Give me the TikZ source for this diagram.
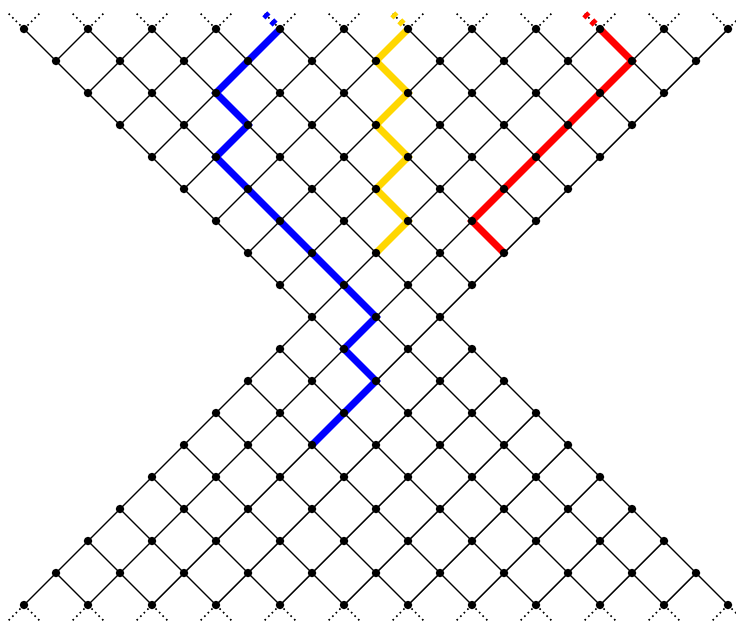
\documentclass[tikz,border=0pt]{standalone}
\definecolor{pathblue}{RGB}{0,0,255}
\definecolor{pathgold}{RGB}{255,215,0}
\definecolor{pathred}{RGB}{255,0,0}
\tikzset{
  edge/.style={line width=1.4pt, draw=black},
  stub/.style={line width=1.6pt, draw=black, dash pattern=on 1.6pt off 3.4pt},
  walk/.style={line width=7pt, line cap=butt, line join=miter},
  walkstub/.style={line width=7pt, line cap=butt, dash pattern=on 4.5pt off 5.5pt, dash phase=3pt},
  dot/.style={circle, fill=black, inner sep=0pt, minimum size=8.5pt},
}
\begin{document}
\begin{tikzpicture}[x=1pt,y=-1pt]
\useasboundingbox (0,0) rectangle (736,621);
% lattice points
\foreach \r in {0,...,18} {
  \pgfmathtruncatemacro\rlo{\r<10 ? \r : 18-\r}
  \pgfmathtruncatemacro\rhi{22-\rlo}
  \pgfmathtruncatemacro\rnx{\rlo+2}
  \foreach \c in {\rlo,\rnx,...,\rhi} {
    \coordinate (v-\r-\c) at ({24+32*\c},{29+32*\r});
  }
}
% stub end points
\foreach \c in {0,2,...,22} {
  \coordinate (tl-\c) at ({8+32*\c},13);
  \coordinate (tr-\c) at ({40+32*\c},13);
  \coordinate (bl-\c) at ({8+32*\c},621);
  \coordinate (br-\c) at ({40+32*\c},621);
  \draw[stub] (v-0-\c) -- (tl-\c);
  \draw[stub] (v-0-\c) -- (tr-\c);
  \draw[stub] (v-18-\c) -- (bl-\c);
  \draw[stub] (v-18-\c) -- (br-\c);
}
% edges
\foreach \r in {0,...,17} {
  \pgfmathtruncatemacro\rlo{\r<10 ? \r : 18-\r}
  \pgfmathtruncatemacro\rhi{22-\rlo}
  \pgfmathtruncatemacro\rnx{\rlo+2}
  \pgfmathtruncatemacro\rn{\r+1}
  \pgfmathtruncatemacro\nlo{\rn<10 ? \rn : 18-\rn}
  \pgfmathtruncatemacro\nhi{22-\nlo}
  \foreach \c in {\rlo,\rnx,...,\rhi} {
    \pgfmathtruncatemacro\cL{\c-1}
    \pgfmathtruncatemacro\cR{\c+1}
    \ifnum\cL<\nlo\else \draw[edge] (v-\r-\c) -- (v-\rn-\cL);\fi
    \ifnum\cR>\nhi\else \draw[edge] (v-\r-\c) -- (v-\rn-\cR);\fi
  }
}
% coloured walks
\coordinate (bs) at (264,13);
\coordinate (ys) at (392,13);
\coordinate (rs) at (584,13);
\draw[walk, pathblue] (v-0-8) -- (v-1-7) -- (v-2-6) -- (v-3-7) -- (v-4-6) -- (v-5-7)
  -- (v-6-8) -- (v-7-9) -- (v-8-10) -- (v-9-11) -- (v-10-10) -- (v-11-11) -- (v-12-10) -- (v-13-9);
\draw[walkstub, pathblue] (v-0-8) -- (bs);
\draw[walk, pathgold] (v-0-12) -- (v-1-11) -- (v-2-12) -- (v-3-11) -- (v-4-12) -- (v-5-11)
  -- (v-6-12) -- (v-7-11);
\draw[walkstub, pathgold] (v-0-12) -- (ys);
\draw[walk, pathred] (v-0-18) -- (v-1-19) -- (v-2-18) -- (v-3-17) -- (v-4-16) -- (v-5-15)
  -- (v-6-14) -- (v-7-15);
\draw[walkstub, pathred] (v-0-18) -- (rs);
% dots
\foreach \r in {0,...,18} {
  \pgfmathtruncatemacro\rlo{\r<10 ? \r : 18-\r}
  \pgfmathtruncatemacro\rhi{22-\rlo}
  \pgfmathtruncatemacro\rnx{\rlo+2}
  \foreach \c in {\rlo,\rnx,...,\rhi} {
    \node[dot] (n-\r-\c) at (v-\r-\c) {};
  }
}
\end{tikzpicture}
\end{document}
